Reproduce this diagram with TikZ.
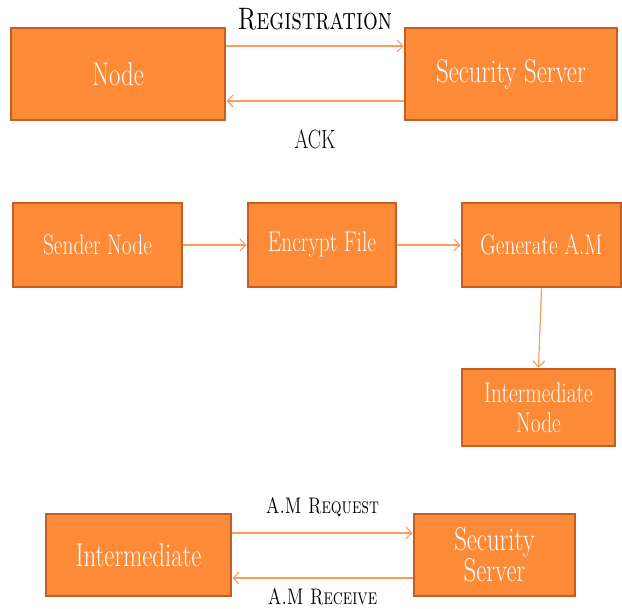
\documentclass[tikz,border=0pt]{standalone}
\usetikzlibrary{arrows.meta}
\definecolor{boxfill}{HTML}{FD8A36}
\definecolor{boxline}{HTML}{C25E26}
\definecolor{arrline}{HTML}{F89C62}
% narrow, tall lettering as in the slide
\newcommand\cnd[1]{\scalebox{.75}[1]{#1}}
\tikzset{
  blk/.style={draw=boxline,line width=2.6pt,fill=boxfill,text=white,
              align=center,inner sep=2pt},
  ar/.style ={-{Straight Barb[length=6pt,width=12pt]},draw=arrline,line width=1.2pt},
  lbl/.style={text=black,inner sep=3pt},
}
\begin{document}
\begin{tikzpicture}[x=1pt,y=-1pt]
  \useasboundingbox (0,0) rectangle (622,609);
  % registration
  \node[blk,minimum width=214pt,minimum height=92pt,font=\fontsize{33}{36}\selectfont] (nd)  at (118,74) {\cnd{Node}};
  \node[blk,minimum width=212pt,minimum height=92pt,font=\fontsize{33}{36}\selectfont] (srv) at (511,74) {\cnd{Security Server}};
  \draw[ar] ([yshift=28pt]nd.east) -- node[above=12pt,lbl,font=\fontsize{31}{34}\selectfont]{\cnd{\textsc{Registration}}} ([yshift=28pt]srv.west);
  \draw[ar] ([yshift=-27pt]srv.west) -- node[below=25pt,lbl,font=\fontsize{26.5}{30}\selectfont]{\cnd{ACK}} ([yshift=-27pt]nd.east);
  % sending
  \node[blk,minimum width=169pt,minimum height=84pt,font=\fontsize{28.5}{30}\selectfont] (snd) at (97.5,245) {\cnd{Sender Node}};
  \node[blk,minimum width=148pt,minimum height=84pt,font=\fontsize{28.5}{30}\selectfont] (enc) at (322,245) {\cnd{Encrypt File}};
  \node[blk,minimum width=159pt,minimum height=84pt,font=\fontsize{28.5}{30}\selectfont] (gen) at (541.5,245) {\cnd{Generate A.M}};
  \node[blk,minimum width=153pt,minimum height=77pt,font=\fontsize{28.5}{30}\selectfont] (inn) at (538.5,407.5) {\cnd{Intermediate}\\\cnd{Node}};
  \draw[ar] (snd) -- (enc);
  \draw[ar] (enc) -- (gen);
  \draw[ar] (gen.south) -- (inn.north);
  % request
  \node[blk,minimum width=185pt,minimum height=82pt,font=\fontsize{33}{31}\selectfont] (itm)  at (138.5,555) {\cnd{Intermediate}};
  \node[blk,minimum width=161pt,minimum height=82pt,font=\fontsize{33}{31}\selectfont] (srv2) at (494.5,555) {\cnd{Security}\\\cnd{Server}};
  \draw[ar] ([yshift=22pt]itm.east) -- node[above=13pt,lbl,font=\fontsize{22.5}{26}\selectfont]{\cnd{\textsc{A.M Request}}} ([yshift=22pt]srv2.west);
  \draw[ar] ([yshift=-23pt]srv2.west) -- node[below=7pt,lbl,font=\fontsize{22.5}{26}\selectfont]{\cnd{\textsc{A.M Receive}}} ([yshift=-23pt]itm.east);
\end{tikzpicture}
\end{document}
